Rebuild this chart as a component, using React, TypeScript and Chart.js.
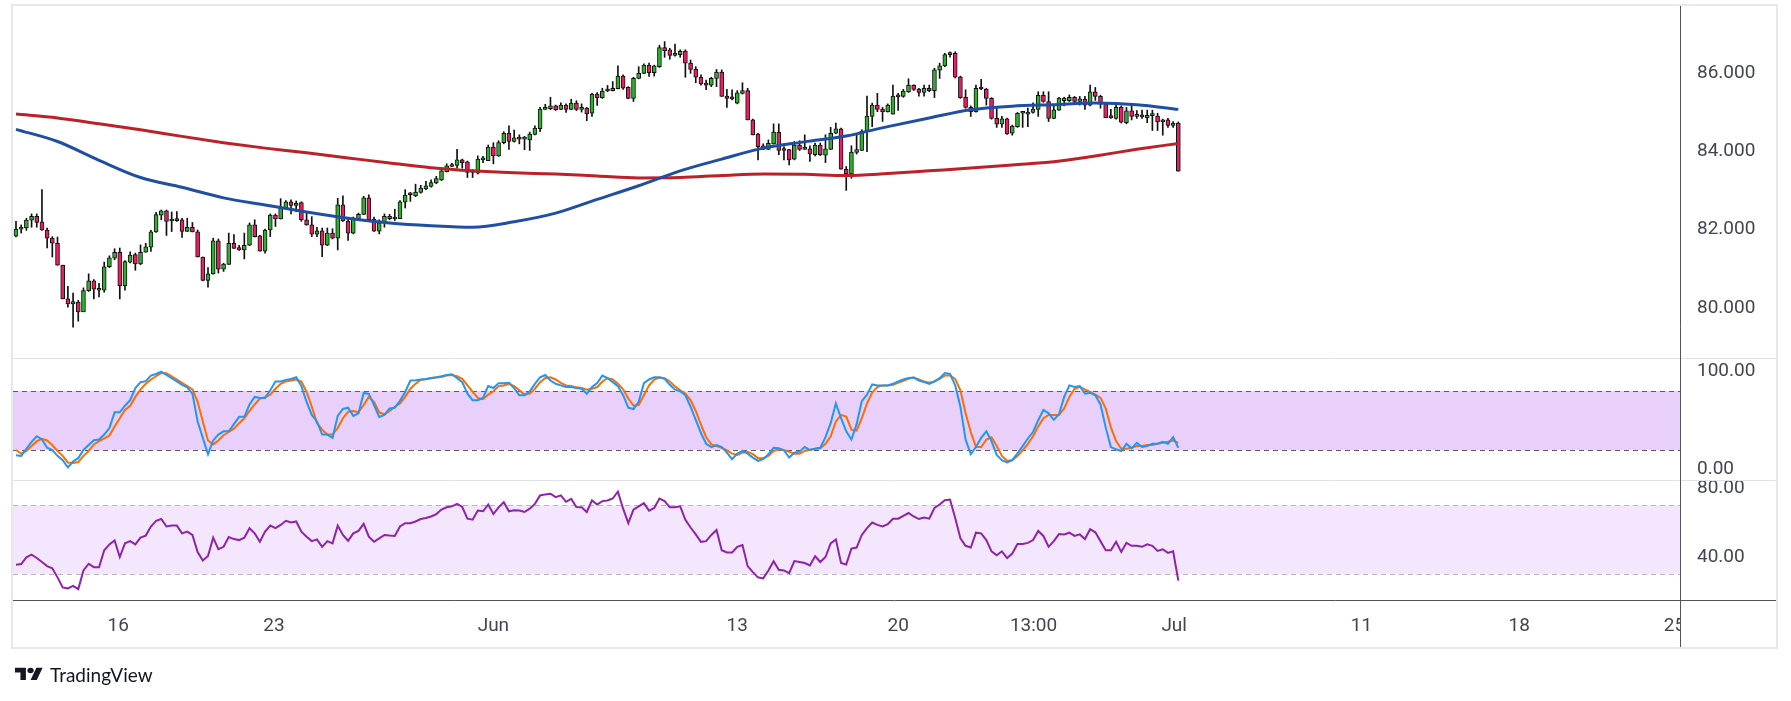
import React, { useEffect, useRef } from "react";
import { Chart, registerables } from "chart.js";

Chart.register(...registerables);

// ---------- DATA (4H candles) ----------
const opens = [
  81.83, 82.01, 82.04, 82.24, 82.34, 82.2, 81.99, 81.78, 81.65, 81.09,
  80.23, 80.1, 80.15, 79.9, 80.44, 80.69, 80.45, 80.45, 81.05, 81.27,
  81.42, 80.57, 81.17, 81.36, 81.12, 81.42, 81.55, 81.94, 82.37, 82.48,
  82.22, 82.25, 82.25, 81.95, 82.06, 81.94, 81.3, 80.7, 80.87, 81.71,
  80.99, 81.11, 81.65, 81.54, 81.48, 81.6, 82.12, 81.84, 81.45, 81.99,
  82.37, 82.27, 82.54, 82.71, 82.62, 82.69, 82.25, 82.12, 81.88, 81.97,
  81.6, 81.91, 81.78, 82.63, 82.22, 81.91, 82.27, 82.39, 82.81, 82.27,
  81.96, 82.17, 82.34, 82.27, 82.28, 82.7, 82.89, 82.86, 82.95, 83.04,
  83.1, 83.19, 83.27, 83.48, 83.61, 83.64, 83.78, 83.73, 83.46, 83.44,
  83.78, 83.76, 84.11, 83.88, 84.22, 84.46, 84.25, 84.33, 84.31, 84.29,
  84.43, 84.58, 85.07, 85.09, 85.16, 85.07, 85.18, 85.07, 85.23, 85.07,
  85.1, 84.97, 85.46, 85.37, 85.54, 85.55, 85.6, 85.92, 85.63, 85.35,
  85.86, 85.99, 86.2, 86.01, 86.16, 86.65, 86.59, 86.45, 86.47, 86.56,
  86.25, 86.09, 85.89, 85.72, 85.69, 85.86, 86.02, 85.41, 85.36, 85.23,
  85.48, 85.55, 84.8, 84.44, 84.14, 84.05, 84.19, 84.49, 84.02, 84.04,
  83.8, 84.16, 84.05, 84.06, 83.91, 84.16, 83.9, 84.05, 84.46, 84.57,
  83.54, 83.42, 83.97, 84.02, 84.52, 84.89, 85.18, 85.08, 85.01, 84.95,
  85.41, 85.4, 85.52, 85.69, 85.59, 85.5, 85.61, 85.55, 86.07, 86.18,
  86.47, 86.5, 85.9, 85.38, 85.12, 85.01, 85.61, 85.59, 85.35, 84.84,
  84.69, 84.83, 84.46, 84.63, 84.97, 84.95, 84.99, 85.07, 85.43, 85.27,
  84.84, 85.05, 85.29, 85.29, 85.38, 85.27, 85.33, 85.18, 85.52, 85.4,
  85.21, 84.87, 84.84, 85.12, 84.73, 85.03, 84.89, 84.92, 84.86, 84.91,
  84.9, 84.75, 84.8, 84.66, 84.72,
];
const highs = [
  82.21, 82.12, 82.29, 82.4, 82.4, 83.02, 82.04, 81.82, 81.81, 81.09,
  80.55, 80.38, 80.19, 80.51, 80.87, 80.72, 80.63, 81.17, 81.33, 81.51,
  81.53, 81.21, 81.43, 81.4, 81.61, 81.65, 81.98, 82.44, 82.5, 82.5,
  82.45, 82.46, 82.29, 82.29, 82.18, 81.99, 81.3, 81.03, 81.78, 81.76,
  81.14, 81.91, 81.87, 81.6, 81.91, 82.17, 82.25, 81.85, 82.01, 82.4,
  82.4, 82.79, 82.74, 82.76, 82.73, 82.71, 82.44, 82.33, 82.06, 82.04,
  82.04, 82.02, 82.8, 82.86, 82.28, 82.32, 82.42, 82.85, 82.89, 82.32,
  82.25, 82.4, 82.39, 82.52, 82.74, 83.02, 82.95, 83.16, 83.13, 83.23,
  83.27, 83.36, 83.55, 83.68, 83.69, 84.05, 83.8, 83.75, 83.53, 83.88,
  83.87, 84.16, 84.22, 84.27, 84.5, 84.65, 84.54, 84.42, 84.38, 84.49,
  84.65, 85.12, 85.2, 85.38, 85.18, 85.24, 85.21, 85.33, 85.29, 85.21,
  85.12, 85.48, 85.5, 85.61, 85.68, 85.78, 86.18, 85.95, 85.65, 85.89,
  86.16, 86.23, 86.25, 86.2, 86.71, 86.8, 86.63, 86.74, 86.59, 86.59,
  86.33, 86.16, 85.95, 85.82, 85.89, 86.09, 86.08, 85.58, 85.57, 85.55,
  85.75, 85.61, 84.82, 84.46, 84.19, 84.29, 84.7, 84.7, 84.12, 84.05,
  84.25, 84.27, 84.42, 84.14, 84.21, 84.21, 84.42, 84.61, 84.72, 84.59,
  83.61, 84.14, 84.44, 84.55, 85.41, 85.23, 85.48, 85.12, 85.21, 85.69,
  85.48, 85.58, 85.85, 85.7, 85.61, 85.69, 85.69, 86.12, 86.25, 86.5,
  86.54, 86.54, 85.92, 85.57, 85.16, 85.69, 85.84, 85.61, 85.37, 85.1,
  84.89, 84.85, 84.67, 84.99, 85.01, 85.1, 85.24, 85.52, 85.52, 85.52,
  85.16, 85.38, 85.38, 85.44, 85.4, 85.4, 85.4, 85.69, 85.63, 85.43,
  85.23, 85.07, 85.18, 85.16, 85.12, 85.2, 85.04, 85.05, 85.05, 85.05,
  84.97, 84.82, 84.84, 84.76, 84.75,
];
const lows = [
  81.81, 81.91, 81.98, 82.06, 82.06, 81.98, 81.53, 81.3, 81.09, 80.23,
  80.02, 79.51, 79.66, 79.9, 80.42, 80.23, 80.28, 80.4, 81.03, 81.23,
  80.23, 80.45, 81.15, 80.96, 81.1, 81.42, 81.44, 81.93, 82.25, 81.85,
  81.95, 82.21, 81.8, 81.95, 81.94, 81.3, 80.69, 80.53, 80.86, 80.89,
  80.93, 81.11, 81.52, 81.47, 81.25, 81.59, 81.81, 81.45, 81.4, 81.82,
  82.08, 82.27, 82.53, 82.4, 82.46, 82.21, 82.11, 81.82, 81.82, 81.31,
  81.59, 81.76, 81.48, 82.21, 81.72, 81.89, 82.25, 82.38, 82.21, 81.95,
  81.89, 82.06, 82.25, 82.23, 82.28, 82.55, 82.72, 82.84, 82.93, 83.02,
  83.08, 83.17, 83.25, 83.47, 83.61, 83.57, 83.57, 83.33, 83.33, 83.42,
  83.71, 83.76, 83.68, 83.87, 84.19, 84.05, 84.23, 84.19, 84.04, 84.02,
  84.42, 84.5, 85.07, 85.06, 85.04, 85.06, 84.99, 85.06, 85.04, 85.0,
  84.78, 84.89, 85.17, 85.35, 85.52, 85.54, 85.59, 85.58, 85.34, 85.27,
  85.85, 85.98, 85.91, 85.92, 86.14, 86.4, 86.35, 86.43, 86.4, 85.89,
  85.99, 85.75, 85.69, 85.57, 85.65, 85.65, 85.4, 85.12, 85.31, 85.21,
  85.46, 84.8, 84.42, 83.78, 84.04, 84.04, 84.18, 83.91, 83.78, 83.65,
  83.78, 84.02, 84.05, 83.74, 83.88, 83.89, 83.71, 84.04, 84.45, 83.54,
  83.0, 83.31, 83.93, 84.02, 83.99, 84.63, 85.01, 84.76, 85.0, 84.95,
  85.04, 85.38, 85.5, 85.55, 85.41, 85.41, 85.52, 85.37, 85.86, 86.16,
  86.4, 85.87, 85.35, 85.1, 84.89, 85.0, 85.57, 85.18, 84.82, 84.61,
  84.61, 84.43, 84.41, 84.61, 84.61, 84.63, 84.97, 84.89, 85.25, 84.76,
  84.83, 85.04, 85.16, 85.27, 85.23, 85.18, 85.07, 85.16, 85.3, 85.1,
  84.86, 84.84, 84.82, 84.72, 84.7, 84.8, 84.84, 84.84, 84.73, 84.53,
  84.53, 84.41, 84.61, 84.61, 83.49,
];
const closes = [
  82.01, 82.05, 82.24, 82.34, 82.18, 81.99, 81.78, 81.65, 81.09, 80.23,
  80.1, 80.16, 79.9, 80.44, 80.69, 80.48, 80.49, 81.05, 81.28, 81.42,
  80.57, 81.18, 81.35, 81.12, 81.42, 81.56, 81.94, 82.38, 82.48, 82.21,
  82.25, 82.23, 81.95, 82.06, 81.94, 81.3, 80.7, 80.87, 81.71, 80.99,
  81.12, 81.65, 81.52, 81.48, 81.6, 82.12, 81.82, 81.45, 81.99, 82.37,
  82.27, 82.55, 82.71, 82.62, 82.67, 82.25, 82.12, 81.88, 81.97, 81.6,
  81.91, 81.78, 82.63, 82.22, 81.91, 82.27, 82.39, 82.81, 82.25, 81.96,
  82.17, 82.34, 82.28, 82.29, 82.71, 82.88, 82.93, 82.96, 83.06, 83.12,
  83.2, 83.3, 83.5, 83.63, 83.65, 83.78, 83.71, 83.46, 83.48, 83.8,
  83.8, 84.11, 83.88, 84.22, 84.46, 84.25, 84.34, 84.31, 84.32, 84.44,
  84.59, 85.08, 85.1, 85.16, 85.06, 85.18, 85.07, 85.23, 85.07, 85.1,
  84.96, 85.46, 85.37, 85.54, 85.57, 85.61, 85.92, 85.61, 85.35, 85.86,
  85.99, 86.2, 86.01, 86.18, 86.65, 86.57, 86.45, 86.47, 86.55, 86.25,
  86.09, 85.89, 85.72, 85.69, 85.86, 86.02, 85.4, 85.35, 85.34, 85.49,
  85.55, 84.8, 84.42, 84.12, 84.05, 84.2, 84.49, 84.02, 84.04, 83.78,
  84.16, 84.05, 84.07, 83.93, 84.16, 83.91, 84.06, 84.46, 84.57, 83.54,
  83.42, 83.98, 84.04, 84.51, 84.9, 85.18, 85.07, 85.01, 85.18, 85.41,
  85.39, 85.54, 85.69, 85.58, 85.5, 85.61, 85.55, 86.08, 86.18, 86.47,
  86.5, 85.89, 85.37, 85.12, 85.01, 85.61, 85.59, 85.35, 84.84, 84.69,
  84.83, 84.44, 84.64, 84.97, 84.98, 85.0, 85.08, 85.43, 85.27, 84.84,
  85.06, 85.36, 85.36, 85.38, 85.27, 85.34, 85.18, 85.52, 85.4, 85.2,
  84.86, 84.86, 85.12, 84.74, 85.03, 84.89, 84.92, 84.88, 84.92, 84.92,
  84.75, 84.8, 84.66, 84.72, 83.49,
];

// Moving averages, read at every 8th candle
const maIndex = [0, 8, 16, 24, 32, 40, 48, 56, 64, 72, 80, 88, 96, 104, 112, 120, 128, 136, 144, 152, 160, 168, 176, 184, 192, 200, 208, 216, 224];
const smaBlue = [84.56, 84.25, 83.77, 83.33, 83.08, 82.81, 82.63, 82.45, 82.29, 82.17, 82.1, 82.06, 82.2, 82.42, 82.77, 83.12, 83.5, 83.8, 84.08, 84.24, 84.39, 84.63, 84.85, 85.06, 85.15, 85.19, 85.23, 85.19, 85.07];
const smaRed = [84.95, 84.85, 84.7, 84.55, 84.38, 84.22, 84.08, 83.96, 83.83, 83.7, 83.58, 83.5, 83.45, 83.42, 83.37, 83.32, 83.33, 83.38, 83.42, 83.41, 83.38, 83.43, 83.5, 83.57, 83.65, 83.73, 83.88, 84.05, 84.2];

const stochK = [
  14.7, 14.0, 21.3, 28.3, 34.0, 30.7, 22.3, 20.0, 14.0, 9.7,
  2.3, 8.3, 11.7, 20.0, 25.0, 30.0, 30.7, 35.7, 42.3, 58.3,
  58.3, 65.0, 70.7, 83.0, 89.0, 90.0, 95.7, 97.3, 99.7, 96.3,
  93.0, 89.7, 86.3, 83.7, 77.3, 49.0, 32.3, 15.7, 29.7, 35.7,
  39.0, 39.0, 46.3, 53.7, 53.7, 66.3, 74.0, 73.0, 73.0, 80.7,
  89.7, 89.7, 91.3, 92.3, 94.0, 85.0, 69.0, 55.7, 49.0, 35.7,
  35.7, 32.3, 54.7, 61.7, 63.0, 54.7, 57.3, 78.0, 77.0, 65.7,
  53.7, 55.7, 62.3, 63.0, 70.0, 79.0, 90.7, 91.0, 91.7, 92.3,
  93.3, 94.0, 95.0, 96.3, 97.0, 93.0, 89.0, 77.3, 70.7, 70.7,
  73.0, 85.0, 83.0, 88.0, 88.0, 88.3, 83.0, 75.7, 75.7, 79.7,
  87.3, 94.0, 96.3, 90.7, 87.3, 85.7, 84.0, 84.0, 83.0, 82.3,
  77.3, 84.0, 88.0, 95.7, 93.0, 89.0, 85.0, 75.7, 63.0, 61.7,
  69.0, 88.0, 91.7, 94.0, 94.0, 92.3, 86.3, 81.3, 79.7, 75.7,
  64.0, 50.7, 37.3, 26.3, 23.0, 25.0, 23.0, 17.3, 10.7, 16.3,
  19.0, 16.3, 12.3, 9.0, 10.7, 15.7, 22.3, 21.7, 19.7, 12.3,
  17.3, 18.3, 23.0, 20.0, 21.3, 22.3, 33.0, 47.3, 67.3, 52.3,
  39.0, 30.7, 46.3, 69.7, 76.3, 86.7, 85.7, 85.7, 85.7, 87.3,
  89.7, 91.7, 93.3, 93.7, 90.7, 89.0, 87.3, 89.7, 93.0, 98.3,
  97.3, 85.7, 64.0, 30.7, 15.7, 23.0, 32.3, 39.0, 29.0, 15.0,
  9.7, 7.3, 9.7, 16.7, 24.0, 31.7, 38.3, 50.3, 60.7, 57.3,
  50.7, 56.3, 74.0, 85.7, 84.0, 85.0, 77.3, 78.3, 75.7, 66.3,
  43.0, 23.0, 20.7, 19.0, 26.3, 21.7, 27.3, 23.0, 24.0, 26.3,
  26.3, 28.3, 26.3, 33.0, 22.3,
];
const stochD = [
  20.0, 16.3, 19.0, 24.0, 29.0, 31.3, 29.7, 25.0, 19.0, 14.0,
  7.3, 6.7, 7.7, 14.0, 19.0, 25.7, 29.0, 31.7, 34.7, 44.0,
  52.3, 60.7, 65.0, 74.0, 81.7, 87.3, 91.7, 95.0, 98.3, 98.0,
  95.0, 91.7, 88.3, 85.0, 81.7, 69.0, 49.0, 29.7, 25.7, 29.7,
  35.0, 38.3, 41.7, 47.3, 52.3, 59.7, 66.3, 72.3, 73.7, 76.3,
  82.3, 87.3, 89.7, 90.7, 91.7, 89.7, 79.0, 64.0, 47.3, 40.7,
  35.7, 35.7, 42.3, 52.3, 59.0, 59.7, 58.3, 65.7, 74.0, 69.0,
  58.3, 56.3, 59.7, 64.0, 67.3, 74.0, 82.3, 87.3, 91.3, 92.0,
  93.0, 93.7, 94.3, 95.7, 96.3, 95.0, 92.3, 85.7, 79.0, 73.0,
  71.7, 76.3, 79.7, 85.0, 85.7, 87.3, 85.0, 80.7, 76.3, 77.3,
  82.3, 89.0, 93.3, 94.0, 91.7, 88.3, 85.7, 85.0, 83.7, 83.0,
  81.3, 82.3, 84.0, 89.7, 93.0, 91.7, 87.3, 81.7, 72.3, 65.0,
  65.7, 75.7, 85.7, 91.7, 93.7, 93.0, 89.7, 84.7, 80.7, 77.3,
  70.7, 59.7, 45.7, 33.0, 25.7, 24.0, 22.3, 19.7, 16.3, 15.0,
  17.3, 18.3, 15.7, 11.7, 11.7, 14.0, 19.0, 20.7, 19.7, 18.3,
  16.3, 16.3, 19.0, 20.3, 21.3, 21.7, 26.3, 34.0, 49.0, 55.7,
  54.0, 40.7, 39.7, 52.3, 67.3, 78.3, 84.0, 85.7, 85.7, 86.3,
  88.3, 90.3, 92.3, 93.7, 91.7, 89.7, 88.3, 89.7, 92.3, 95.7,
  95.7, 92.3, 80.7, 57.3, 38.3, 23.0, 23.0, 30.7, 33.0, 24.0,
  14.0, 9.0, 9.7, 14.0, 19.7, 26.3, 34.0, 44.0, 52.3, 55.7,
  55.7, 55.7, 62.3, 74.0, 82.3, 84.0, 81.7, 79.0, 76.3, 73.0,
  62.3, 43.0, 29.0, 21.3, 21.3, 22.3, 24.0, 24.0, 25.0, 25.0,
  26.3, 27.3, 28.3, 29.7, 27.3,
];
const rsi = [
  35.5, 35.9, 39.8, 41.4, 39.4, 37.1, 34.7, 33.5, 28.2, 22.4,
  21.8, 23.3, 21.4, 32.2, 36.1, 34.1, 34.1, 43.9, 47.3, 49.6,
  40.0, 47.9, 49.2, 47.3, 51.2, 52.4, 57.7, 61.0, 62.0, 57.7,
  58.2, 58.2, 53.7, 54.7, 52.8, 42.9, 38.0, 40.6, 51.2, 44.5,
  45.9, 51.6, 50.4, 49.8, 51.2, 56.7, 53.7, 48.8, 54.7, 58.2,
  56.7, 58.6, 61.0, 60.0, 60.6, 54.7, 51.8, 49.2, 50.2, 45.9,
  49.2, 47.9, 58.2, 52.8, 49.4, 53.7, 55.1, 59.2, 51.8, 48.8,
  50.8, 52.8, 52.4, 52.2, 57.7, 59.6, 59.6, 60.6, 62.0, 62.6,
  63.5, 64.9, 67.5, 68.8, 69.4, 70.8, 69.0, 62.2, 61.6, 66.9,
  66.5, 70.4, 64.9, 68.8, 71.8, 66.5, 67.1, 66.9, 66.1, 68.0,
  70.8, 75.7, 76.3, 76.7, 74.7, 75.7, 72.0, 73.7, 69.0, 68.8,
  66.1, 72.8, 70.4, 72.4, 72.8, 73.9, 77.9, 68.0, 59.6, 67.5,
  69.4, 71.2, 66.9, 68.4, 73.9, 72.4, 68.8, 68.8, 69.4, 61.6,
  57.1, 53.1, 48.8, 49.2, 52.8, 55.7, 43.9, 42.6, 42.6, 45.9,
  46.9, 34.7, 31.2, 28.2, 27.6, 32.2, 37.6, 32.6, 32.2, 30.6,
  37.6, 37.1, 36.5, 35.1, 40.4, 37.1, 40.0, 47.9, 50.2, 36.5,
  35.7, 44.9, 45.5, 52.8, 56.7, 60.0, 58.6, 57.7, 59.0, 62.2,
  62.2, 63.9, 65.5, 63.5, 62.0, 62.9, 62.2, 68.4, 70.4, 72.9,
  73.3, 62.6, 50.8, 46.5, 45.5, 54.1, 53.7, 49.8, 43.3, 41.0,
  43.3, 39.4, 42.0, 47.5, 47.5, 48.2, 49.8, 55.1, 52.2, 45.9,
  49.2, 53.3, 53.1, 54.1, 52.2, 53.1, 50.4, 56.1, 54.3, 49.2,
  43.9, 43.9, 48.8, 42.9, 48.2, 46.5, 46.5, 45.9, 47.3, 46.5,
  43.5, 44.5, 42.4, 43.3, 26.3,
];

const priceTicks = [80, 82, 84, 86];
const stochTicks = [0, 100];
const rsiTicks = [40, 80];
const stochBand = [20, 80];
const rsiBand = [30, 70];
const dateTickPos = [19.7, 49.7, 92, 139, 170, 196.1, 223.2, 259.3, 289.7, 319.6];
const dateTickLabels = ["16", "23", "Jun", "13", "20", "13:00", "Jul", "11", "18", "25"];

// ---------- STYLE ----------
const W = 1791;
const H = 701;
const FONT = "Roboto";
const TEXT = "#434651";
const UP = "#2fae2f";
const DOWN = "#e91e63";

const framePlugin = {
  id: "tvFrame",
  beforeDatasetsDraw(chart: any) {
    const { ctx, chartArea, scales } = chart;
    const L = chartArea.left;
    const R = chartArea.right;
    ctx.save();
    const s = scales.stoch;
    const sTop = s.getPixelForValue(stochBand[1]);
    const sBot = s.getPixelForValue(stochBand[0]);
    ctx.fillStyle = "#e9d0fb";
    ctx.fillRect(L, sTop, R - L, sBot - sTop);
    const r = scales.rsi;
    const rTop = r.getPixelForValue(rsiBand[1]);
    const rBot = r.getPixelForValue(rsiBand[0]);
    ctx.fillStyle = "#f3e6fd";
    ctx.fillRect(L, rTop, R - L, rBot - rTop);
    ctx.lineWidth = 1;
    ctx.setLineDash([5, 4]);
    ctx.strokeStyle = "#5e5868";
    [sTop, sBot].forEach((y: number) => {
      ctx.beginPath();
      ctx.moveTo(L, Math.round(y) + 0.5);
      ctx.lineTo(R, Math.round(y) + 0.5);
      ctx.stroke();
    });
    ctx.strokeStyle = "#bab5c2";
    [rTop, rBot].forEach((y: number) => {
      ctx.beginPath();
      ctx.moveTo(L, Math.round(y) + 0.5);
      ctx.lineTo(R, Math.round(y) + 0.5);
      ctx.stroke();
    });
    ctx.restore();
  },
  afterDraw(chart: any) {
    const { ctx, chartArea, scales } = chart;
    const L = chartArea.left;
    const R = chartArea.right;
    const outerR = scales.price.right;
    const outerB = scales.x.bottom;
    const top = chartArea.top;
    ctx.save();
    // pane separators
    ctx.strokeStyle = "#e0e3eb";
    ctx.lineWidth = 1;
    [scales.stoch.top, scales.rsi.top].forEach((y: number) => {
      ctx.beginPath();
      ctx.moveTo(L, Math.round(y) + 0.5);
      ctx.lineTo(outerR, Math.round(y) + 0.5);
      ctx.stroke();
    });
    // outer frame
    ctx.strokeStyle = "#e6e8ee";
    ctx.lineWidth = 2;
    ctx.strokeRect(L - 1, top - 1, outerR - L + 2, outerB - top + 2);
    // axis lines
    ctx.strokeStyle = "#50535e";
    ctx.lineWidth = 1;
    ctx.beginPath();
    ctx.moveTo(L, Math.round(chartArea.bottom) + 0.5);
    ctx.lineTo(outerR, Math.round(chartArea.bottom) + 0.5);
    ctx.stroke();
    ctx.beginPath();
    ctx.moveTo(Math.round(R) + 0.5, top);
    ctx.lineTo(Math.round(R) + 0.5, outerB);
    ctx.stroke();
    // date labels
    ctx.beginPath();
    ctx.rect(L, chartArea.bottom + 1, R - L, outerB - chartArea.bottom - 1);
    ctx.clip();
    ctx.fillStyle = TEXT;
    ctx.font = `19px ${FONT}`;
    ctx.textAlign = "center";
    ctx.textBaseline = "middle";
    dateTickPos.forEach((p: number, i: number) => {
      ctx.fillText(dateTickLabels[i], scales.x.getPixelForValue(p), chartArea.bottom + 26);
    });
    ctx.restore();
  },
};

function yAxis(extra: any, ticks: number[], digits: number) {
  return {
    type: "linear",
    position: "right",
    stack: "panes",
    grid: { display: false, drawTicks: false },
    border: { display: false },
    afterBuildTicks: (s: any) => {
      s.ticks = ticks.map((v) => ({ value: v }));
    },
    afterFit: (s: any) => {
      s.width = 96;
      s.paddingTop = 0;
      s.paddingBottom = 0;
    },
    ticks: {
      padding: 17,
      color: TEXT,
      font: { family: FONT, size: 19 },
      autoSkip: false,
      callback: (v: any) => Number(v).toFixed(digits),
    },
    ...extra,
  };
}

function TradingChart() {
  const ref = useRef<HTMLCanvasElement | null>(null);
  useEffect(() => {
    if (!ref.current) return;
    const idx = closes.map((_, i) => i);
    const chart = new Chart(ref.current, {
      type: "bar",
      data: {
        datasets: [
          {
            type: "line",
            label: "SMA blue",
            data: maIndex.map((x, k) => ({ x, y: smaBlue[k] })),
            yAxisID: "price",
            borderColor: "#1e4fa5",
            borderWidth: 3,
            pointRadius: 0,
            cubicInterpolationMode: "monotone",
            order: 0,
          },
          {
            type: "line",
            label: "SMA red",
            data: maIndex.map((x, k) => ({ x, y: smaRed[k] })),
            yAxisID: "price",
            borderColor: "#bb2127",
            borderWidth: 3,
            pointRadius: 0,
            cubicInterpolationMode: "monotone",
            order: 0,
          },
          {
            type: "bar",
            label: "bodies",
            data: idx.map((i) => ({ x: i, y: [opens[i], closes[i]] })),
            yAxisID: "price",
            backgroundColor: idx.map((i) => (closes[i] >= opens[i] ? UP : DOWN)),
            borderColor: "#111111",
            borderWidth: 1,
            borderSkipped: false,
            barThickness: 4,
            minBarLength: 2,
            grouped: false,
            order: 1,
          },
          {
            type: "bar",
            label: "wicks",
            data: idx.map((i) => ({ x: i, y: [lows[i], highs[i]] })),
            yAxisID: "price",
            backgroundColor: "#111111",
            barThickness: 1,
            grouped: false,
            order: 2,
          },
          {
            type: "line",
            label: "%K",
            data: idx.map((i) => ({ x: i, y: stochK[i] })),
            yAxisID: "stoch",
            borderColor: "#2196f3",
            borderWidth: 2,
            pointRadius: 0,
            tension: 0,
            order: 0,
          },
          {
            type: "line",
            label: "%D",
            data: idx.map((i) => ({ x: i, y: stochD[i] })),
            yAxisID: "stoch",
            borderColor: "#ff6d00",
            borderWidth: 2,
            pointRadius: 0,
            tension: 0,
            order: 0,
          },
          {
            type: "line",
            label: "RSI",
            data: idx.map((i) => ({ x: i, y: rsi[i] })),
            yAxisID: "rsi",
            borderColor: "#8e24aa",
            borderWidth: 2,
            pointRadius: 0,
            tension: 0,
            order: 0,
          },
        ],
      } as any,
      options: {
        animation: false,
        responsive: false,
        maintainAspectRatio: false,
        devicePixelRatio: 1,
        events: [],
        layout: { padding: { top: 6, left: 13, right: 15, bottom: 54 } },
        plugins: { legend: { display: false }, tooltip: { enabled: false } },
        scales: {
          x: {
            type: "linear",
            min: -0.578,
            max: 320.68,
            offset: false,
            grid: { display: false, drawTicks: false },
            border: { display: false },
            ticks: { display: false },
            afterFit: (s: any) => {
              s.height = 47;
              s.paddingLeft = 0;
              s.paddingRight = 0;
            },
          },
          price: yAxis({ min: 78.72, max: 87.71, stackWeight: 352 }, priceTicks, 3),
          stoch: yAxis({ min: -10.51, max: 113.56, stackWeight: 122 }, stochTicks, 2),
          rsi: yAxis({ min: 15.07, max: 84.64, stackWeight: 120 }, rsiTicks, 2),
        },
      } as any,
      plugins: [framePlugin],
    });
    return () => chart.destroy();
  }, []);
  return <canvas ref={ref} width={W} height={H} style={{ position: "absolute", left: 0, top: 0, width: W, height: H }} />;
}

export default function App() {
  return (
    <div style={{ position: "absolute", left: 0, top: 0, width: W, height: H, background: "#ffffff", overflow: "hidden" }}>
      <TradingChart />
      <div
        style={{
          position: "absolute",
          left: 15,
          top: 662,
          height: 24,
          display: "flex",
          alignItems: "center",
          gap: 7,
          color: "#131722",
          fontFamily: "Lato, 'Open Sans', sans-serif",
          fontSize: 19,
        }}
      >
        <svg width="28" height="19" viewBox="0 0 36 28" preserveAspectRatio="none">
          <path d="M14 22H7V11H0V4h14v18z" fill="#131722" />
          <path d="M28 22h-8l7.5-18h8L28 22z" fill="#131722" />
          <circle cx="20" cy="8" r="4" fill="#131722" />
        </svg>
        <span>TradingView</span>
      </div>
    </div>
  );
}
